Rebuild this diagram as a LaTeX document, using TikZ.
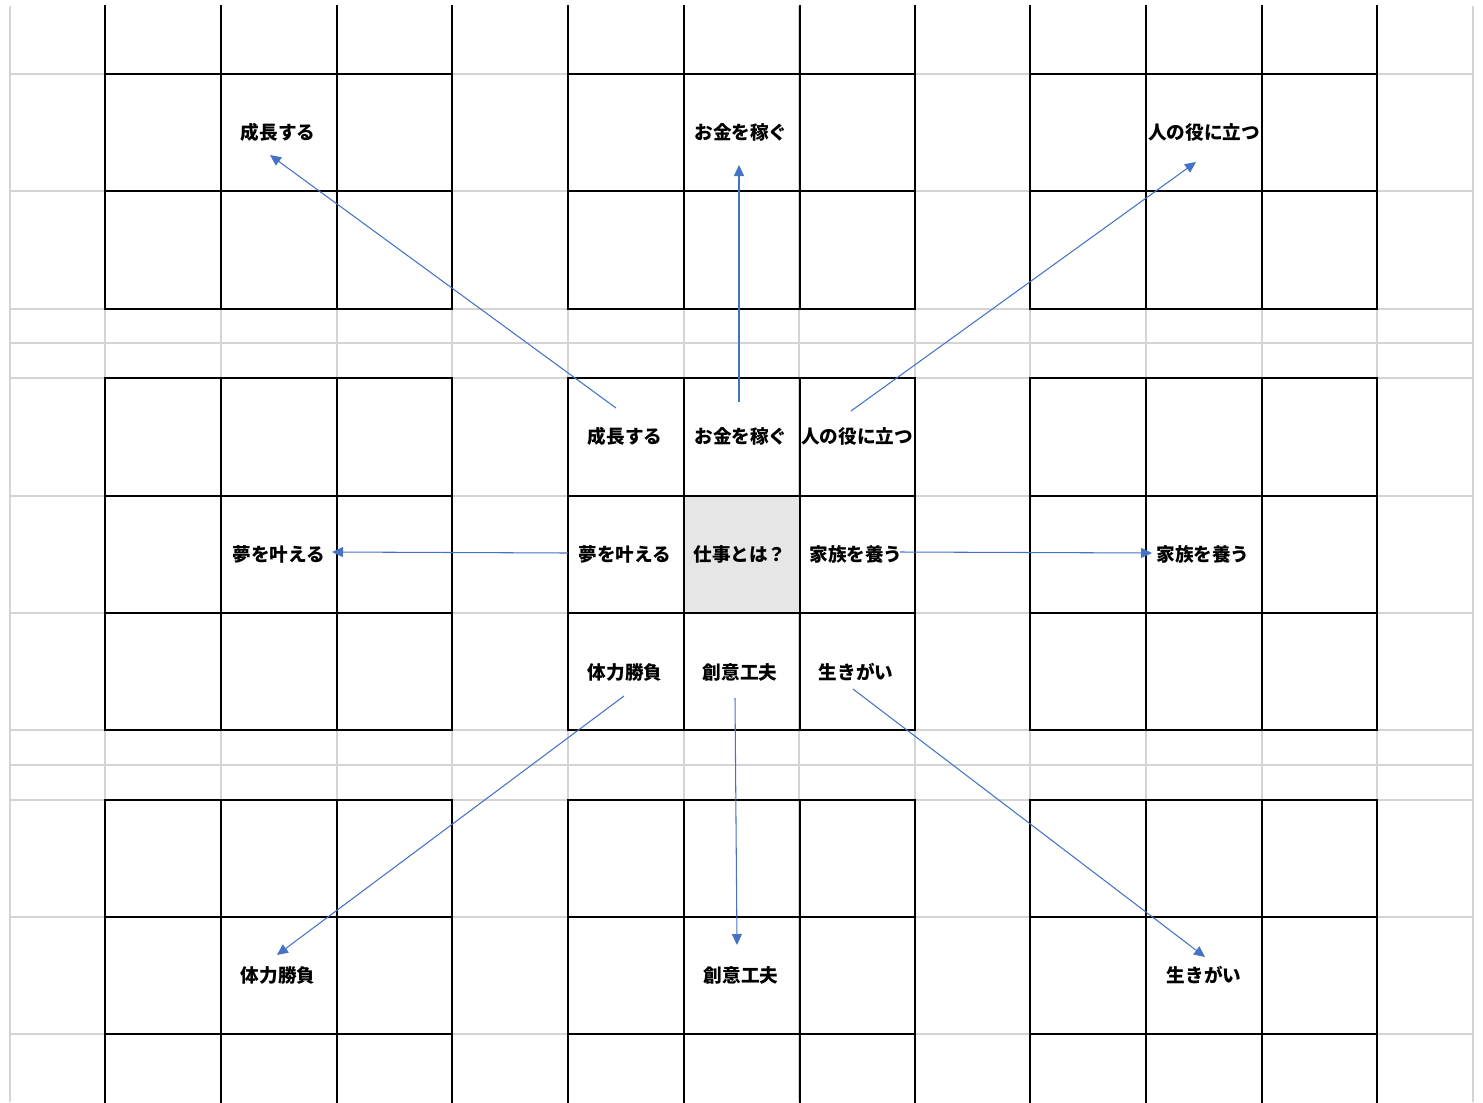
\documentclass[tikz,border=0pt]{standalone}
\usepackage{fontspec}
\newfontfamily\jpfont{Noto Sans CJK JP}
\usepackage{xcolor}
\usepackage{tikz}
\usetikzlibrary{arrows.meta}
\definecolor{colorSheet}{HTML}{D4D4D4}
\definecolor{colorArrow}{HTML}{4472C4}
\definecolor{colorCentre}{HTML}{E6E6E6}
\tikzset{
   sheet/.style={draw=colorSheet, line width=1.1pt},
   blk/.style={draw=black, line width=1.1pt, line cap=rect},
   lbl/.style={font=\jpfont\bfseries\fontsize{10.6}{13}\selectfont, inner sep=0pt},
   arr/.style={-{Triangle[length=0.22cm,width=0.2cm]}, draw=colorArrow, line width=0.6pt},
}

\begin{document}
\begin{tikzpicture}[x=0.02cm, y=-0.02cm]
  \useasboundingbox (0,0) rectangle (1483,1102);

  % spreadsheet grid
  \foreach \y in {74,191,309,343,378,496,613,730,765,800,917,1034}
    \draw [sheet] (10,\y) -- (1473,\y);
  \foreach \x in {10,105,221,337,452,568,684,799,915,1030,1146,1262,1377,1473}
    \draw [sheet] (\x,6) -- (\x,1102);

  \fill [colorCentre] (684,496) rectangle (799,613);

  % 3x3 blocks
  \foreach \bx in {105,568,1030} {
    \foreach \dx in {0,116,232,347} {
      \draw [blk] (\bx+\dx,6) -- (\bx+\dx,309);
      \draw [blk] (\bx+\dx,378) -- (\bx+\dx,730);
      \draw [blk] (\bx+\dx,800) -- (\bx+\dx,1102);
    }
    \foreach \y in {74,191,309,378,496,613,730,800,917,1034}
      \draw [blk] (\bx,\y) -- (\bx+347,\y);
  }

  % centre block
  \node [lbl] (theme) at (740,554) {仕事とは？};
  \node [lbl] (c1) at (625,436) {成長する};
  \node [lbl] (c2) at (741,436) {お金を稼ぐ};
  \node [lbl] (c3) at (857,436) {人の役に立つ};
  \node [lbl] (c4) at (625,554) {夢を叶える};
  \node [lbl] (c5) at (856,554) {家族を養う};
  \node [lbl] (c6) at (625,672) {体力勝負};
  \node [lbl] (c7) at (740,672) {創意工夫};
  \node [lbl] (c8) at (856,672) {生きがい};

  % outer blocks
  \node [lbl] (o1) at (278,132) {成長する};
  \node [lbl] (o2) at (741,132) {お金を稼ぐ};
  \node [lbl] (o3) at (1204,132) {人の役に立つ};
  \node [lbl] (o4) at (279,554) {夢を叶える};
  \node [lbl] (o5) at (1203,554) {家族を養う};
  \node [lbl] (o6) at (278,975) {体力勝負};
  \node [lbl] (o7) at (741,975) {創意工夫};
  \node [lbl] (o8) at (1204,975) {生きがい};

  % arrow ends
  \coordinate (s1) at (616,408);  \coordinate (e1) at (270,155);
  \coordinate (s2) at (739,402);  \coordinate (e2) at (739,165);
  \coordinate (s3) at (851,411);  \coordinate (e3) at (1196,162);
  \coordinate (s4) at (568,553);  \coordinate (e4) at (332,552);
  \coordinate (s5) at (900,552);  \coordinate (e5) at (1152,553);
  \coordinate (s6) at (624,696);  \coordinate (e6) at (277,955);
  \coordinate (s7) at (735,698);  \coordinate (e7) at (737,945);
  \coordinate (s8) at (853,689);  \coordinate (e8) at (1205,957);

  \foreach \i in {1,...,8}
    \draw [arr] (s\i) -- (e\i);
\end{tikzpicture}
\end{document}
